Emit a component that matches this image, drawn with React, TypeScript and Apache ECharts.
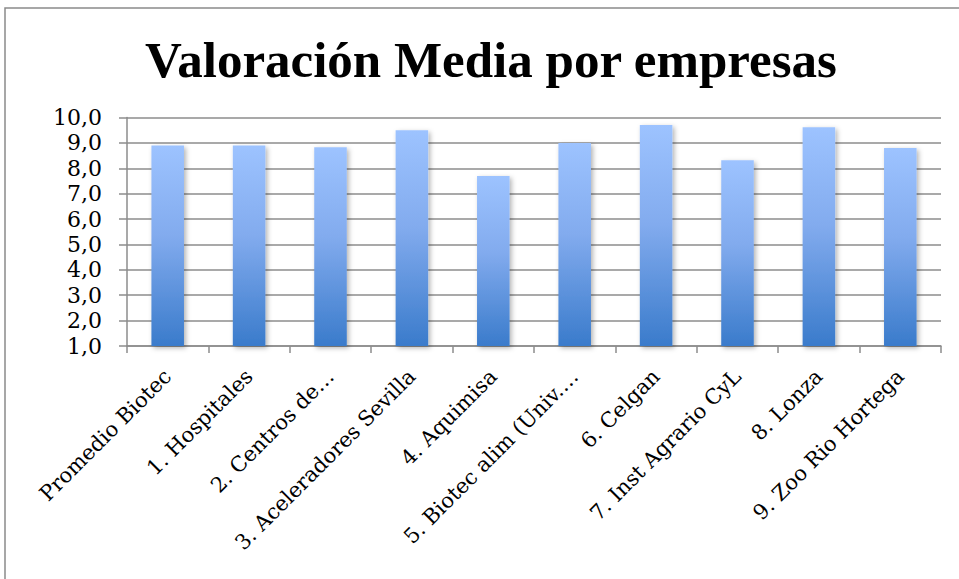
import React, { useEffect, useRef } from "react";
import * as echarts from "echarts";

const categories = [
  "Promedio Biotec",
  "1. Hospitales",
  "2. Centros de…",
  "3. Aceleradores Sevilla",
  "4. Aquimisa",
  "5. Biotec alim (Univ.…",
  "6. Celgan",
  "7. Inst Agrario CyL",
  "8. Lonza",
  "9. Zoo Rio Hortega",
];
const values = [8.9, 8.9, 8.83, 9.5, 7.7, 9.0, 9.7, 8.32, 9.62, 8.8];
const titleText = "Valoración Media por empresas";

export default function App() {
  const ref = useRef<HTMLDivElement>(null);
  useEffect(() => {
    if (!ref.current) return;
    const chart = echarts.init(ref.current, undefined, { renderer: "svg" });
    const serif = "'Liberation Serif', serif";
    const wide = "'DejaVu Serif', serif";
    chart.setOption({
      animation: false,
      backgroundColor: "#ffffff",
      title: {
        text: titleText,
        left: 486,
        textAlign: "center",
        top: 29,
        textStyle: { fontFamily: serif, fontWeight: "bold", fontSize: 51, color: "#000" },
      },
      graphic: [
        {
          type: "rect",
          shape: { x: 5, y: 8, width: 1000, height: 1000 },
          style: { fill: "none", stroke: "#8a8a8a", lineWidth: 1.5 },
          silent: true,
        },
      ],
      grid: { left: 127, right: 18, top: 117.5, bottom: 233, containLabel: false },
      xAxis: {
        type: "category",
        data: categories,
        axisLine: { show: true, lineStyle: { color: "#8c8c8c", width: 1.5 } },
        axisTick: { show: true, alignWithLabel: false, length: 7, lineStyle: { color: "#8c8c8c", width: 1.5 } },
        axisLabel: {
          rotate: 45,
          interval: 0,
          margin: 27,
          fontFamily: wide,
          fontSize: 21,
          color: "#000",
        },
      },
      yAxis: {
        type: "value",
        min: 1,
        max: 10,
        interval: 1,
        axisLine: { show: true, lineStyle: { color: "#8c8c8c", width: 1.5 } },
        axisTick: { show: true, inside: false, length: 8, lineStyle: { color: "#8c8c8c", width: 1.5 } },
        splitLine: { show: true, lineStyle: { color: "#8c8c8c", width: 1.5 } },
        axisLabel: {
          formatter: (v: number) => v.toFixed(1).replace(".", ","),
          fontFamily: wide,
          fontSize: 22,
          color: "#000",
          margin: 25,
        },
      },
      series: [
        {
          type: "bar",
          data: values,
          barWidth: "40%",
          itemStyle: {
            color: new echarts.graphic.LinearGradient(0, 0, 0, 1, [
              { offset: 0, color: "#9dc3ff" },
              { offset: 0.45, color: "#82abee" },
              { offset: 1, color: "#3a7bcb" },
            ]),
            shadowColor: "rgba(0,0,0,0.3)",
            shadowBlur: 5,
            shadowOffsetX: 2,
            shadowOffsetY: 2,
          },
        },
      ],
    });
    return () => chart.dispose();
  }, []);
  return <div ref={ref} style={{ width: 959, height: 579, position: "absolute", left: 0, top: 0 }} />;
}
